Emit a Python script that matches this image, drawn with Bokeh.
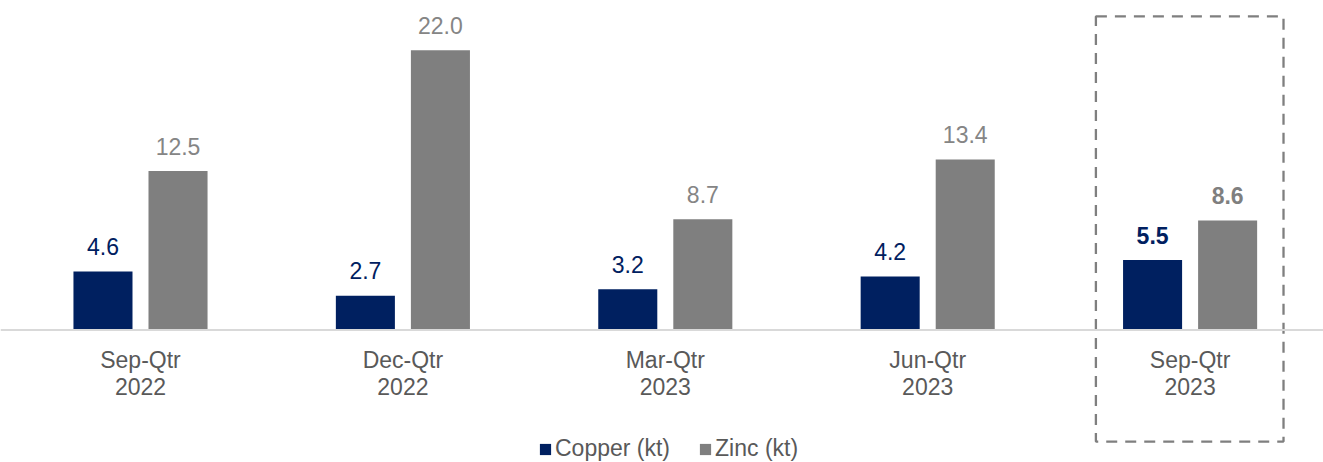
from bokeh.plotting import figure
from bokeh.models import ColumnDataSource, Legend, LegendItem, Range1d, Span
from bokeh.core.properties import value
from bokeh.embed import file_html
from bokeh.resources import INLINE

# ---- data ----
quarters = ["Sep-Qtr", "Dec-Qtr", "Mar-Qtr", "Jun-Qtr", "Sep-Qtr"]
years = ["2022", "2022", "2023", "2023", "2023"]
copper = [4.6, 2.7, 3.2, 4.2, 5.5]
zinc = [12.5, 22.0, 8.7, 13.4, 8.6]
series_names = ["Copper (kt)", "Zinc (kt)"]
highlight_index = 4

# ---- styles ----
NAVY = "#002060"
GREY = "#7f7f7f"
LABEL = "#595959"
FONT = value("Liberation Sans")
FS = "23px"

W, H = 1323, 462
px_per_cat = 262.4
px_per_unit = 12.72
first_center_px = 140
baseline_px = 329.5

x0 = -first_center_px / px_per_cat
x1 = x0 + W / px_per_cat
y1 = baseline_px / px_per_unit
y0 = -(H - baseline_px) / px_per_unit

p = figure(width=W, height=H, output_backend="svg", toolbar_location=None,
           x_range=Range1d(x0, x1), y_range=Range1d(y0, y1),
           x_axis_type=None, y_axis_type=None, min_border=0,
           background_fill_color="white", border_fill_color="white")
p.grid.visible = False
p.outline_line_color = None

idx = list(range(len(quarters)))
off = 0.143
bw = 0.225

# axis baseline
p.add_layout(Span(location=0, dimension="width", line_color="#d9d9d9", line_width=2))

src = ColumnDataSource(dict(
    xc=[i - off for i in idx], xz=[i + off for i in idx],
    copper=copper, zinc=zinc,
    lc=[f"{v:.1f}" for v in copper], lz=[f"{v:.1f}" for v in zinc],
    style=["bold" if i == highlight_index else "normal" for i in idx],
    zcol=[GREY if i == highlight_index else "#858585" for i in idx],
    q=quarters, yr=years, xi=idx,
))

r1 = p.vbar(x="xc", top="copper", bottom=0, width=bw, source=src,
            fill_color=NAVY, line_color=None)
r2 = p.vbar(x="xz", top="zinc", bottom=0, width=bw, source=src,
            fill_color=GREY, line_color=None)

p.text(x="xc", y="copper", text="lc", source=src, y_offset=-25,
       text_align="center", text_baseline="alphabetic", text_font=FONT,
       text_font_size=FS, text_color=NAVY, text_font_style="style")
p.text(x="xz", y="zinc", text="lz", source=src, y_offset=-25,
       text_align="center", text_baseline="alphabetic", text_font=FONT,
       text_font_size=FS, text_color="zcol", text_font_style="style")

# category labels (two lines)
p.text(x="xi", y=0, text="q", source=src, y_offset=30,
       text_align="center", text_baseline="alphabetic", text_font=FONT,
       text_font_size=FS, text_color=LABEL)
p.text(x="xi", y=0, text="yr", source=src, y_offset=56,
       text_align="center", text_baseline="alphabetic", text_font=FONT,
       text_font_size=FS, text_color=LABEL)

# dashed highlight box around latest quarter
p.quad(left=highlight_index - 0.359, right=highlight_index + 0.356,
       top=24.65, bottom=-8.77, fill_alpha=0, line_color=GREY,
       line_width=2.3, line_dash="11 8")

legend = Legend(items=[LegendItem(label=series_names[0], renderers=[r1]),
                       LegendItem(label=series_names[1], renderers=[r2])],
                orientation="horizontal", location=(538, 0),
                glyph_width=14, glyph_height=14, label_standoff=3,
                spacing=28, padding=0, margin=0,
                border_line_alpha=0, background_fill_alpha=0,
                label_text_font="Liberation Sans", label_text_font_size=FS,
                label_text_color=LABEL, label_height=14)
p.add_layout(legend)

open("out.html", "w").write(file_html(p, INLINE))
